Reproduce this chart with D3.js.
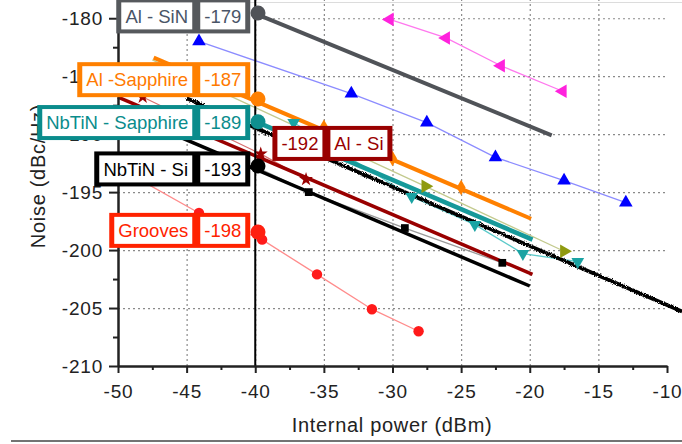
<!DOCTYPE html>
<html lang="en">
<head>
<meta charset="UTF-8">
<title>Noise vs internal power</title>
<script src="https://d3js.org/d3.v7.min.js"></script>
<style>
  body { margin: 0; background: #fff; font-family: Arial, 'Liberation Sans', sans-serif; }
  svg { display: block; }
  .grid line { stroke: #8a8a8a; stroke-dasharray: 2,3; stroke-width: 1.2; }
  .grid path { display: none; }
  .axis path, .axis line { stroke: #222; stroke-width: 2; }
  .axis text { font-size: 19px; letter-spacing: 0.8px; fill: #222; font-family: Arial, 'Liberation Sans', sans-serif; }
</style>
</head>
<body>
<div id="chart"></div>
<script>
// ticks
var xTicks = [-50, -45, -40, -35, -30, -25, -20, -15, -10];
var xMinor = [-47.5, -42.5, -37.5, -32.5, -27.5, -22.5, -17.5, -12.5];
var yTicks = [-210, -205, -200, -195, -190, -185, -180];
var yMinor = [-207.5, -202.5, -197.5, -192.5, -187.5, -182.5];
var gridX = [-45, -40, -35, -30, -25, -20, -15];
var gridY = [-205, -200, -195, -190, -185, -180];

// series (internal power in dBm, noise in dBc/Hz)
var sinX = [-40, -18.4],            sinY = [-179.6, -190.1];
var magentaX = [-30.2, -26.1, -22.1, -17.6];
var magentaY = [-180.1, -181.7, -184.1, -186.3];
var blueX = [-44.1, -33.0, -27.5, -22.5, -17.5, -13.0];
var blueY = [-182.0, -186.5, -189.0, -192.0, -194.0, -195.9];
var orangeX = [-47.4, -19.9],       orangeY = [-183.4, -197.3];
var orangePtX = [-35, -30, -25],    orangePtY = [-189.4, -192.1, -194.6];
var oliveX = [-47.5, -27.6, -17.5], oliveY = [-183.6, -194.5, -200.1];
var tealX = [-40, -19.8],           tealY = [-188.9, -199.1];
var tealThinX = [-37.2, -28.6, -24.0, -20.5, -16.5];
var tealThinY = [-189.0, -195.4, -197.8, -200.3, -201.0];
var measX = [-45, -8.9],            measY = [-186.9, -205.3];
var alSiX = [-50, -19.8],           alSiY = [-186.8, -202.1];
var starX = [-48.2, -39.6, -36.3],  starY = [-186.8, -191.7, -193.9];
var nbSiX = [-46, -20],             nbSiY = [-190.0, -203.1];
var squareX = [-40, -36.1, -29.1, -22.0];
var squareY = [-192.8, -195.0, -198.1, -201.1];
var groovesX = [-48, -44.1, -39.5, -35.5, -31.5, -28.1];
var groovesY = [-194.2, -196.8, -199.1, -202.1, -205.1, -207.0];

// values at -40 dBm
var refX = -39.8;
var refY = [-179.55, -186.97, -188.93, -192.75, -198.45];
var refColors = ["#505358", "#ff8000", "#0f8f8f", "#000000", "#ff2010"];

// labels
var annNames = ["Al - SiN", "Al -Sapphire", "NbTiN - Sapphire", "NbTiN - Si", "Grooves", "Al - Si"];
var annValues = ["-179", "-187", "-189", "-193", "-198", "-192"];

var W = 682, H = 444;
var x = d3.scaleLinear().domain([-50, -10]).range([118, 667]);
var y = d3.scaleLinear().domain([-210, -178.6]).range([366, 2]);

var svg = d3.select("#chart").append("svg").attr("width", W).attr("height", H);

var defs = svg.append("defs");
var rough = defs.append("filter").attr("id", "rough")
    .attr("x", "-5%").attr("y", "-10%").attr("width", "110%").attr("height", "120%");
rough.append("feTurbulence").attr("type", "fractalNoise").attr("baseFrequency", 1.1)
    .attr("numOctaves", 1).attr("seed", 3).attr("result", "n");
rough.append("feDisplacementMap").attr("in", "SourceGraphic").attr("in2", "n")
    .attr("scale", 4).attr("xChannelSelector", "R").attr("yChannelSelector", "G");

// top frame line
svg.append("line").attr("x1", 118).attr("x2", W).attr("y1", 2.5).attr("y2", 2.5)
    .attr("stroke", "#dcdcdc").attr("stroke-width", 1);

// grid
svg.append("g").attr("class", "grid").attr("transform", "translate(0,366)")
    .call(d3.axisBottom(x).tickValues(gridX).tickSize(-366).tickFormat(""));
svg.append("g").attr("class", "grid").attr("transform", "translate(118,0)")
    .call(d3.axisLeft(y).tickValues(gridY).tickSize(-547).tickFormat(""));

var line = d3.line().x(function (d) { return x(d[0]); }).y(function (d) { return y(d[1]); });

function drawLine(xs, ys, color, width, extra) {
  var p = svg.append("path").datum(d3.zip(xs, ys)).attr("d", line)
      .attr("fill", "none").attr("stroke", color).attr("stroke-width", width);
  if (extra) extra(p);
  return p;
}

function drawMarks(xs, ys, type, size, color, rotate) {
  svg.append("g").selectAll("path").data(d3.zip(xs, ys)).enter().append("path")
      .attr("d", d3.symbol().type(type).size(size))
      .attr("transform", function (d) { return "translate(" + x(d[0]) + "," + y(d[1]) + ") rotate(" + (rotate || 0) + ")"; })
      .attr("fill", color);
}

// lines, back to front
drawLine(blueX, blueY, "#8c8cff", 1.3);
drawLine(magentaX, magentaY, "#ff78ee", 1.3);
drawLine(sinX, sinY, "#505358", 4);
drawLine(oliveX, oliveY, "#c3ca8e", 1.3);
drawLine(tealThinX, tealThinY, "#5ccaca", 1.3);
drawLine(tealX, tealY, "#16999a", 4.5);
drawLine(measX, measY, "#000", 3.8, function (p) { p.attr("filter", "url(#rough)"); });
drawLine(squareX, squareY, "#9a9a9a", 1.3);
drawLine(starX, starY, "#d87070", 1.2);
drawLine(nbSiX, nbSiY, "#000", 3.5);
drawLine(alSiX, alSiY, "#990000", 3.5);
drawLine(orangeX, orangeY, "#ff8000", 4);
drawLine(groovesX, groovesY, "#ff8c8c", 1.3);

// markers
drawMarks(magentaX, magentaY, d3.symbolTriangle, 80, "#ff22dd", -90);
drawMarks(blueX, blueY, d3.symbolTriangle, 80, "#0000ff", 0);
drawMarks(orangePtX, orangePtY, d3.symbolDiamond, 70, "#ff8000", 0);
drawMarks(oliveX.slice(1), oliveY.slice(1), d3.symbolTriangle, 80, "#8f9a10", 90);
drawMarks(tealThinX, tealThinY, d3.symbolTriangle, 70, "#1aa3a3", 180);
drawMarks(starX, starY, d3.symbolStar, 60, "#990000", 0);
drawMarks(squareX.slice(1), squareY.slice(1), d3.symbolSquare, 60, "#000", 0);
drawMarks(groovesX.slice(1), groovesY.slice(1), d3.symbolCircle, 85, "#ff1a1a", 0);

// -40 dBm reference line
svg.append("line").attr("x1", x(-40)).attr("x2", x(-40)).attr("y1", 0).attr("y2", 366)
    .attr("stroke", "#000").attr("stroke-width", 2);

// axes
svg.append("g").attr("class", "axis").attr("transform", "translate(0,366)")
    .call(d3.axisBottom(x).tickValues(xMinor).tickSize(4).tickSizeOuter(0).tickFormat(""));
svg.append("g").attr("class", "axis").attr("transform", "translate(0,366)")
    .call(d3.axisBottom(x).tickValues(xTicks).tickSize(7).tickSizeOuter(0).tickPadding(12)
      .tickFormat(function (d) { return String(d); }));
svg.append("g").attr("class", "axis").attr("transform", "translate(118,0)")
    .call(d3.axisLeft(y).tickValues(yMinor).tickSize(5).tickSizeOuter(0).tickFormat(""));
svg.append("g").attr("class", "axis").attr("transform", "translate(118,0)")
    .call(d3.axisLeft(y).tickValues(yTicks).tickSize(9).tickSizeOuter(0).tickPadding(6)
      .tickFormat(function (d) { return String(d); }));
svg.append("line").attr("x1", 118).attr("x2", 118).attr("y1", 0).attr("y2", 4)
    .attr("stroke", "#222").attr("stroke-width", 2);

svg.append("text").attr("x", 392).attr("y", 432).attr("text-anchor", "middle")
    .style("font-size", "20px").style("letter-spacing", "0.7px").attr("fill", "#222")
    .text("Internal power (dBm)");
svg.append("text").attr("transform", "translate(45,176) rotate(-90)").attr("text-anchor", "middle")
    .style("font-size", "20px").style("letter-spacing", "0.7px").attr("fill", "#222")
    .text("Noise (dBc/Hz)");

// label boxes
var annLayout = [
  { c: "#56595d", t: "#4a5567", cy: -179.8, side: "left" },
  { c: "#ff8000", t: "#ff7a00", cy: -185.3, side: "left" },
  { c: "#0a8c8c", t: "#0a8c8c", cy: -189.0, side: "left" },
  { c: "#000000", t: "#000000", cy: -193.0, side: "left" },
  { c: "#ff2200", t: "#ff2200", cy: -198.3, side: "left" },
  { c: "#990000", t: "#990000", cy: -190.8, side: "right", x0: -38.75 }
];

var fontSize = "18.5px";
var tmp = svg.append("text").style("font-size", fontSize);
function measure(s) { tmp.text(s); return tmp.node().getComputedTextLength(); }

annNames.forEach(function (name, k) {
  var L = annLayout[k];
  var parts = L.side === "left" ? [name, annValues[k]] : [annValues[k], name];
  var widths = parts.map(function (s) { return Math.round(measure(s) + 8); });
  var padX = 5, gap = 8, padY = 4, h = 27;
  var outerW = padX * 2 + gap + widths[0] + widths[1];
  var outerH = h + padY * 2;
  var cy = y(L.cy);
  var left = L.side === "left" ? x(-40) - 5 - outerW : x(L.x0);
  var g = svg.append("g");
  g.append("rect").attr("x", left).attr("y", cy - outerH / 2)
      .attr("width", outerW).attr("height", outerH).attr("fill", L.c);
  var cx = left + padX;
  parts.forEach(function (s, i) {
    g.append("rect").attr("x", cx).attr("y", cy - h / 2).attr("width", widths[i]).attr("height", h).attr("fill", "#fff");
    g.append("text").attr("x", cx + widths[i] / 2).attr("y", cy).attr("dy", "0.36em")
        .attr("text-anchor", "middle").attr("fill", L.t).style("font-size", fontSize).text(s);
    cx += widths[i] + gap;
  });
});
tmp.remove();

// big markers at -40 dBm
svg.append("g").selectAll("circle").data(refY).enter().append("circle")
    .attr("cx", x(refX)).attr("cy", function (d) { return y(d); }).attr("r", 7.5)
    .attr("fill", function (d, i) { return refColors[i]; });

// page rule
svg.append("line").attr("x1", 11).attr("x2", W).attr("y1", 441).attr("y2", 441)
    .attr("stroke", "#444").attr("stroke-width", 1.5);
</script>
</body>
</html>
